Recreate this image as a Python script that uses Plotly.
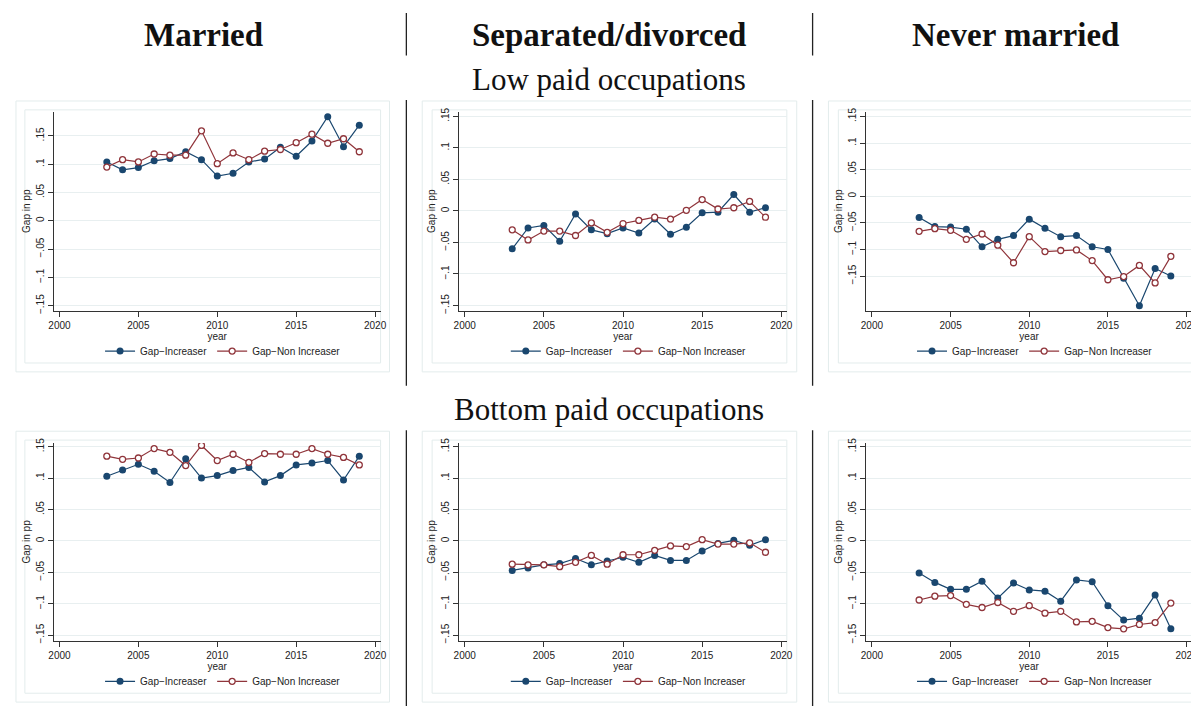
import plotly.graph_objects as go

years = list(range(2003, 2020))

low_married_inc = [0.104, 0.090, 0.094, 0.106, 0.110, 0.122, 0.108, 0.079, 0.084, 0.104, 0.109, 0.130, 0.114, 0.141, 0.184, 0.131, 0.169]
low_married_non = [0.095, 0.108, 0.104, 0.118, 0.116, 0.116, 0.159, 0.101, 0.120, 0.108, 0.123, 0.126, 0.138, 0.153, 0.137, 0.145, 0.122]
low_sep_inc = [-0.060, -0.027, -0.023, -0.048, -0.005, -0.030, -0.036, -0.027, -0.035, -0.013, -0.037, -0.026, -0.003, -0.002, 0.026, -0.002, 0.005]
low_sep_non = [-0.030, -0.046, -0.032, -0.032, -0.039, -0.019, -0.034, -0.020, -0.015, -0.010, -0.013, 0.001, 0.018, 0.003, 0.005, 0.015, -0.010]
low_never_inc = [-0.040, -0.057, -0.058, -0.062, -0.095, -0.081, -0.074, -0.043, -0.060, -0.076, -0.074, -0.095, -0.100, -0.154, -0.206, -0.136, -0.150]
low_never_non = [-0.066, -0.061, -0.064, -0.081, -0.071, -0.092, -0.125, -0.076, -0.104, -0.102, -0.101, -0.121, -0.157, -0.151, -0.130, -0.163, -0.113]
bot_married_inc = [0.103, 0.113, 0.122, 0.111, 0.093, 0.131, 0.100, 0.104, 0.112, 0.117, 0.094, 0.104, 0.121, 0.124, 0.128, 0.097, 0.135]
bot_married_non = [0.135, 0.130, 0.132, 0.147, 0.141, 0.120, 0.152, 0.128, 0.138, 0.125, 0.139, 0.138, 0.138, 0.147, 0.138, 0.133, 0.121]
bot_sep_inc = [-0.047, -0.043, -0.038, -0.036, -0.028, -0.038, -0.032, -0.026, -0.034, -0.023, -0.031, -0.031, -0.016, -0.004, 0.001, -0.007, 0.002]
bot_sep_non = [-0.037, -0.038, -0.038, -0.041, -0.034, -0.023, -0.037, -0.022, -0.022, -0.015, -0.008, -0.009, 0.002, -0.005, -0.005, -0.003, -0.018]
bot_never_inc = [-0.051, -0.066, -0.077, -0.077, -0.064, -0.091, -0.067, -0.078, -0.080, -0.096, -0.062, -0.065, -0.103, -0.126, -0.123, -0.086, -0.140]
bot_never_non = [-0.094, -0.088, -0.087, -0.101, -0.106, -0.098, -0.112, -0.103, -0.115, -0.112, -0.129, -0.128, -0.138, -0.140, -0.133, -0.130, -0.099]

column_titles = ["Married", "Separated/divorced", "Never married"]
row_titles = ["Low paid occupations", "Bottom paid occupations"]
series_names = ["Gap\u2212Increaser", "Gap\u2212Non Increaser"]
ytick_vals = [-0.15, -0.1, -0.05, 0, 0.05, 0.1, 0.15]
ytick_text = ["\u2212.15", "\u2212.1", "\u2212.05", "0", ".05", ".1", ".15"]
xtick_vals = [2000, 2005, 2010, 2015, 2020]

panels = [
    (low_married_inc, low_married_non),
    (low_sep_inc, low_sep_non),
    (low_never_inc, low_never_non),
    (bot_married_inc, bot_married_non),
    (bot_sep_inc, bot_sep_non),
    (bot_never_inc, bot_never_non),
]
y_ranges = [
    [-0.1587, 0.1925], [-0.158, 0.157], [-0.215, 0.1587],
    [-0.159, 0.1558], [-0.159, 0.1558], [-0.159, 0.1558],
]

W, H = 1199, 706
def px(x): return x / W
def py(y): return 1 - y / H

col_px = [(41, 371), (450, 781), (861, 1190)]
row_px = [(100, 301), (435, 635)]
legend_y = [342, 676]
inner_x = [(12, 371), (423, 781), (833, 1192)]
outer_x = [(3, 380), (413, 791), (823, 1201)]
inner_y = [(98, 354), (432, 688)]
outer_y = [(89, 363), (423, 697)]

BLUE = "#1a476f"
RED = "#90353b"
FONT = "Liberation Sans, Arial, sans-serif"
SERIF = "Liberation Serif, Times New Roman, serif"

fig = go.Figure()
layout = {}
shapes = []
for i, (inc, non) in enumerate(panels):
    r, c = divmod(i, 3)
    k = "" if i == 0 else str(i + 1)
    leg = "legend" + k
    fig.add_trace(go.Scatter(
        x=years, y=inc, name=series_names[0], mode="lines+markers",
        line=dict(color=BLUE, width=1.2),
        marker=dict(symbol="circle", size=7, color=BLUE),
        xaxis="x" + k, yaxis="y" + k, legend=leg))
    fig.add_trace(go.Scatter(
        x=years, y=non, name=series_names[1], mode="lines+markers",
        line=dict(color=RED, width=1.2),
        marker=dict(symbol="circle", size=6, color="white", line=dict(color=RED, width=1.3)),
        xaxis="x" + k, yaxis="y" + k, legend=leg))
    x0, x1 = col_px[c]
    y0, y1 = row_px[r]
    layout["xaxis" + k] = dict(
        domain=[px(x0), px(x1)], anchor="y" + k, range=[1999.63, 2020.35],
        tickvals=xtick_vals, ticks="outside", ticklen=5, tickcolor="#333",
        showline=True, linecolor="#333", linewidth=1.2, showgrid=False, zeroline=False,
        tickfont=dict(family=FONT, size=10, color="#222"),
        title=dict(text="year", font=dict(family=FONT, size=10, color="#222"), standoff=0),
    )
    layout["yaxis" + k] = dict(
        domain=[py(y1), py(y0)], anchor="x" + k, range=y_ranges[i],
        tickvals=ytick_vals, ticktext=ytick_text, tickangle=-90,
        ticks="outside", ticklen=5, tickcolor="#333",
        showline=True, linecolor="#333", linewidth=1.2,
        showgrid=True, gridcolor="#e8eff0", gridwidth=1, zeroline=False,
        tickfont=dict(family=FONT, size=10, color="#222"),
        title=dict(text="Gap in pp", font=dict(family=FONT, size=10, color="#222"), standoff=2),
    )
    layout[leg] = dict(
        orientation="h", x=px((x0 + x1) / 2 + 6), xanchor="center",
        y=py(legend_y[r]), yanchor="middle",
        font=dict(family=FONT, size=10, color="#222"),
        bgcolor="rgba(0,0,0,0)", itemwidth=30, tracegroupgap=0,
    )
    for (xa, xb), (ya, yb) in [(outer_x[c], outer_y[r]), (inner_x[c], inner_y[r])]:
        shapes.append(dict(type="rect", xref="paper", yref="paper",
                           x0=px(xa), x1=px(xb), y0=py(yb), y1=py(ya),
                           line=dict(color="#e3ecec", width=1), layer="below"))

for xs in (397, 807):
    for (ya, yb) in [(0, 43), (88, 377), (422, 706)]:
        shapes.append(dict(type="line", xref="paper", yref="paper",
                           x0=px(xs), x1=px(xs), y0=py(ya), y1=py(yb),
                           line=dict(color="#222", width=1.3)))

annotations = []
for t, xc in zip(column_titles, [192, 601.5, 1012]):
    annotations.append(dict(text=t, x=px(xc), y=py(22), xref="paper", yref="paper",
                            xanchor="center", yanchor="middle", showarrow=False,
                            font=dict(family=SERIF, size=33, color="#111", weight="bold")))
for t, yc in zip(row_titles, [67, 401]):
    annotations.append(dict(text=t, x=px(601.5), y=py(yc), xref="paper", yref="paper",
                            xanchor="center", yanchor="middle", showarrow=False,
                            font=dict(family=SERIF, size=31, color="#111")))

fig.update_layout(
    width=W, height=H, margin=dict(l=0, r=0, t=0, b=0),
    paper_bgcolor="white", plot_bgcolor="white",
    shapes=shapes, annotations=annotations, **layout,
)
fig.write_html("out.html")
